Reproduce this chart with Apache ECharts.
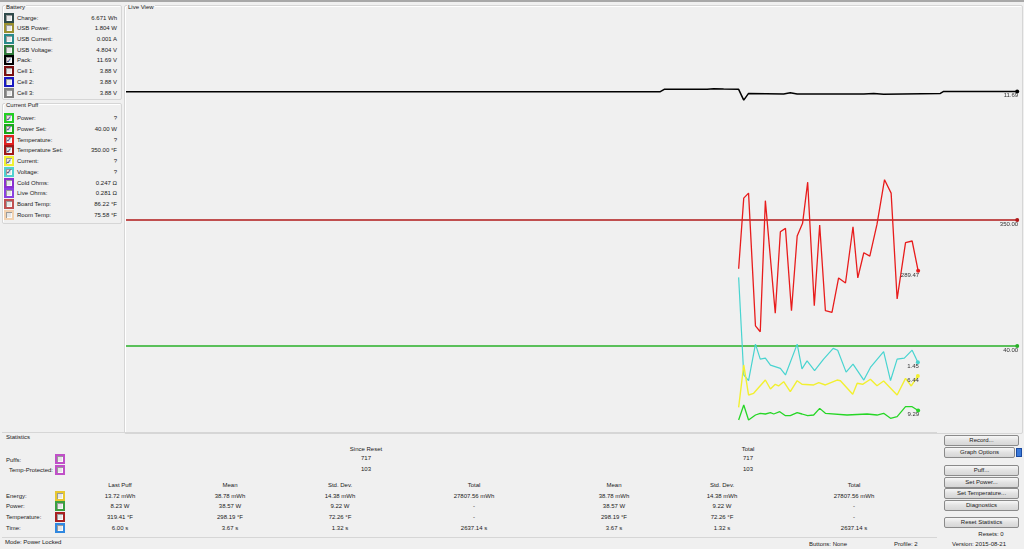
<!DOCTYPE html>
<html>
<head>
<meta charset="utf-8">
<script src="https://cdn.jsdelivr.net/npm/echarts@6/dist/echarts.min.js"></script>
<style>
  html, body { margin: 0; padding: 0; }
  body { width: 1024px; height: 549px; background: #f0f0f0; position: relative; overflow: hidden;
         font-family: "Liberation Sans", Arial, sans-serif; font-size: 6px; color: #1a1a1a; }
  .abs { position: absolute; white-space: nowrap; line-height: 1; }
  .gbox { position: absolute; border: 1px solid #d6d6d6; border-radius: 2px; box-shadow: 1px 1px 0 #fff inset; }
  .gtitle { position: absolute; background: #f0f0f0; padding: 0 1px; line-height: 1; }
  .cb { position: absolute; width: 10px; height: 10px; box-sizing: border-box; }
  .cb i { position: absolute; left: 2px; top: 2px; width: 6px; height: 6px; background: #e6e6e6; box-shadow: inset 1px 1px 0 #9a9a9a, inset -1px -1px 0 #fafafa; }
  .cb b { position: absolute; left: 2px; top: 1.5px; font-size: 7px; line-height: 7px; color: #1a2a70; font-weight: normal; }
  .btn { position: absolute; box-sizing: border-box; border: 1px solid #8a8a8a; border-radius: 2px;
         background: linear-gradient(#f7f7f7, #e2e2e2 50%, #d6d6d6); text-align: center; }
  #chart { position: absolute; left: 124px; top: 4px; width: 898px; height: 428px; }
</style>
</head>
<body>
<div style="position:absolute;left:0;top:0;width:1024px;height:2px;background:#a8a8a8"></div>
<div id="ui"></div>
<div id="chart"></div>
<script>
// ---- chart data (seconds on x) ----
const viewStart = 0, viewEnd = 29.7;

const packTimes  = [0, 17.80, 17.93, 19.36, 19.58, 19.91, 20.41, 20.58, 20.74, 21.91, 22.13, 22.36, 24.58, 24.91, 25.24, 27.13, 27.24, 28.36, 29.69];
const packValues = [11.68, 11.68, 11.76, 11.76, 11.78, 11.77, 11.76, 11.39, 11.62, 11.60, 11.64, 11.60, 11.60, 11.62, 11.59, 11.62, 11.69, 11.69, 11.69];

const tempTimes  = [20.41, 20.58, 20.74, 20.97, 21.13, 21.30, 21.63, 21.80, 21.97, 22.17, 22.36, 22.54, 22.71, 22.93, 23.11, 23.30, 23.52, 23.74, 23.97, 24.22, 24.38, 24.58, 24.78, 25.02, 25.27, 25.49, 25.69, 25.97, 26.19, 26.39];
const tempValues = [292, 376, 382, 224, 217, 373, 239, 336, 340, 242, 331, 346, 395, 248, 344, 242, 240, 281, 275, 342, 281, 311, 307, 345, 398, 382, 256, 323, 325, 289.47];
const tempSet = 350;

const voltTimes  = [20.41, 20.58, 20.74, 20.97, 21.13, 21.30, 21.47, 21.80, 21.97, 22.36, 22.52, 22.69, 22.94, 23.24, 23.56, 23.71, 23.99, 24.22, 24.58, 24.80, 25.24, 25.47, 25.69, 25.93, 26.19, 26.38];
const voltValues = [3.27, 1.18, 1.06, 1.84, 1.52, 1.54, 1.39, 1.32, 1.18, 1.84, 1.31, 1.48, 1.27, 1.52, 1.75, 1.71, 1.24, 1.41, 1.07, 1.34, 1.68, 1.06, 1.52, 1.54, 1.71, 1.45];

const currTimes  = [20.41, 20.58, 20.74, 20.91, 21.30, 21.47, 21.63, 21.74, 21.91, 22.13, 22.36, 22.52, 22.91, 23.08, 23.30, 23.69, 23.80, 24.21, 24.36, 24.54, 24.80, 25.02, 25.24, 25.69, 25.97, 26.16, 26.38];
const currValues = [2.70, 7.74, 4.17, 4.37, 5.95, 4.88, 5.44, 5.24, 5.75, 4.56, 5.87, 5.44, 5.36, 5.63, 5.36, 5.95, 5.87, 4.25, 5.56, 5.44, 6.04, 5.27, 5.83, 4.17, 6.15, 5.24, 6.44];

const powerTimes  = [20.41, 20.58, 20.74, 20.97, 21.13, 21.30, 21.47, 21.58, 21.78, 21.97, 22.13, 22.36, 22.52, 22.71, 22.91, 23.11, 23.30, 24.02, 24.69, 25.02, 25.24, 25.47, 25.69, 25.97, 26.19, 26.39];
const powerValues = [4.76, 11.9, 4.76, 7.14, 7.95, 7.62, 8.24, 7.62, 8.71, 6.81, 6.81, 8.24, 7.62, 6.81, 7.14, 10.3, 7.95, 7.14, 7.62, 7.14, 7.95, 5.57, 6.33, 11.1, 11.1, 9.29];
const powerSet = 40;

// ---- side panel / stats text ----
const batteryRows = [
  ['Charge:', '6.671 Wh', '#2f4a4a', false],
  ['USB Power:', '1.804 W', '#9a9030', false],
  ['USB Current:', '0.001 A', '#2a8a8a', false],
  ['USB Voltage:', '4.804 V', '#2f7a3a', false],
  ['Pack:', '11.69 V', '#000000', true],
  ['Cell 1:', '3.88 V', '#7a1010', false],
  ['Cell 2:', '3.88 V', '#1818c0', false],
  ['Cell 3:', '3.88 V', '#808080', false]
];
const puffRows = [
  ['Power:', '?', '#22d022', true],
  ['Power Set:', '40.00 W', '#18a818', true],
  ['Temperature:', '?', '#e02020', true],
  ['Temperature Set:', '350.00 °F', '#a01818', true],
  ['Current:', '?', '#f0f030', true],
  ['Voltage:', '?', '#50d0d0', true],
  ['Cold Ohms:', '0.247 Ω', '#8a30d0', false],
  ['Live Ohms:', '0.281 Ω', '#8a40e0', false],
  ['Board Temp:', '86.22 °F', '#c05050', false],
  ['Room Temp:', '75.58 °F', '#f2d2b0', false]
];
const statHeaders = ['Last Puff', 'Mean', 'Std. Dev.', 'Total', 'Mean', 'Std. Dev.', 'Total'];
const statRows = [
  ['Energy:', '#e8c830', ['13.72 mWh', '38.78 mWh', '14.38 mWh', '27807.56 mWh', '38.78 mWh', '14.38 mWh', '27807.56 mWh']],
  ['Power:', '#3aa040', ['8.23 W', '38.57 W', '9.22 W', '-', '38.57 W', '9.22 W', '-']],
  ['Temperature:', '#a82020', ['319.41 °F', '298.19 °F', '72.26 °F', '-', '298.19 °F', '72.26 °F', '-']],
  ['Time:', '#3088e0', ['6.00 s', '3.67 s', '1.32 s', '2637.14 s', '3.67 s', '1.32 s', '2637.14 s']]
];
const buttons = [
  ['Record...', 435, 944, 75], ['Graph Options', 447, 944, 71], ['Puff...', 465, 944, 75],
  ['Set Power...', 477, 944, 75], ['Set Temperature...', 488, 944, 75], ['Diagnostics', 499.5, 944, 75],
  ['Reset Statistics', 517, 944, 75]
];

// ---- build the form around the chart ----
const ui = document.getElementById('ui');
function el(cls, css, text) {
  const d = document.createElement('div');
  d.className = cls;
  Object.assign(d.style, css);
  if (text !== undefined) d.textContent = text;
  ui.appendChild(d);
  return d;
}
function checkbox(x, y, color, checked) {
  const c = el('cb', { left: x + 'px', top: y + 'px', background: color });
  c.innerHTML = '<i></i>' + (checked ? '<b>✓</b>' : '');
}
function groupBox(x, y, w, h, title) {
  el('gbox', { left: x + 'px', top: y + 'px', width: w + 'px', height: h + 'px' });
  el('gtitle', { left: (x + 3) + 'px', top: (y - 1) + 'px' }, title);
}

groupBox(2, 5, 118, 93, 'Battery');
groupBox(2, 103, 118, 119, 'Current Puff');
groupBox(124, 5, 897, 427, 'Live View');
el('abs', { left: '2px', top: '432px', width: '935px', height: '104px', borderTop: '1px solid #d6d6d6', borderBottom: '1px solid #d6d6d6' });
el('gtitle', { left: '5px', top: '434px' }, 'Statistics');

batteryRows.forEach((r, i) => {
  const y = 17.5 + i * 10.72;
  checkbox(3.5, y - 5, r[2], r[3]);
  el('abs', { left: '17px', top: (y - 3) + 'px' }, r[0]);
  el('abs', { right: (1024 - 117) + 'px', top: (y - 3) + 'px' }, r[1]);
});
puffRows.forEach((r, i) => {
  const y = 118 + i * 10.75;
  checkbox(3.5, y - 5, r[2], r[3]);
  el('abs', { left: '17px', top: (y - 3) + 'px' }, r[0]);
  el('abs', { right: (1024 - 117) + 'px', top: (y - 3) + 'px' }, r[1]);
});

// statistics block
const colX = [120, 230, 340, 474, 614, 722, 854];
function centred(x, y, text) {
  el('abs', { left: (x - 50) + 'px', width: '100px', textAlign: 'center', top: (y - 3) + 'px' }, text);
}
centred(366, 449, 'Since Reset'); centred(366, 458, '717'); centred(366, 468.5, '103');
centred(748, 449, 'Total'); centred(748, 458, '717'); centred(748, 468.5, '103');
el('abs', { left: '6px', top: '456.5px' }, 'Puffs:');
el('abs', { left: '9px', top: '467px' }, 'Temp-Protected:');
checkbox(54.5, 454, '#c050c8', false);
checkbox(54.5, 465, '#c050c8', false);
statHeaders.forEach((h, i) => centred(colX[i], 484.5, h));
statRows.forEach((r, j) => {
  const y = 495.5 + j * 10.7;
  el('abs', { left: '6px', top: (y - 3) + 'px' }, r[0]);
  checkbox(54.5, y - 5, r[1], false);
  r[2].forEach((v, i) => centred(colX[i], y, v));
});

buttons.forEach(b => {
  el('btn', { left: b[2] + 'px', top: b[1] + 'px', width: b[3] + 'px', height: '11px', lineHeight: '9px' }, b[0]);
});
el('abs', { left: '1016px', top: '447.5px', width: '6px', height: '9px', background: '#3a78d8', border: '1px solid #1a4aa0', boxSizing: 'border-box' });
centred(991, 534, 'Resets: 0');

el('abs', { left: '5px', top: '539px' }, 'Mode: Power Locked');
el('abs', { left: '809px', top: '540.5px' }, 'Buttons: None');
el('abs', { left: '894px', top: '540.5px' }, 'Profile: 2');
el('abs', { left: '952px', top: '540.5px' }, 'Version: 2015-08-21');

// ---- the live view chart ----
function pairs(ts, vs) { return ts.map((t, i) => [t, vs[i]]); }
function withEndDot(data, color, text) {
  const last = data[data.length - 1];
  data[data.length - 1] = {
    value: last,
    symbol: 'circle',
    symbolSize: 4,
    itemStyle: { color: color },
    label: {
      show: true, position: 'bottom', align: 'right', distance: 0, offset: [1, -1],
      formatter: text, fontSize: 6, color: '#333', fontFamily: 'Liberation Sans'
    }
  };
  return data;
}
function line(name, yIdx, data, color, width) {
  return {
    name: name, type: 'line', yAxisIndex: yIdx, data: data,
    symbol: 'none', silent: true, animation: false,
    lineStyle: { color: color, width: width || 1.2 },
    itemStyle: { color: color }
  };
}

const chart = echarts.init(document.getElementById('chart'), null, { renderer: 'canvas' });
chart.setOption({
  backgroundColor: 'transparent',
  animation: false,
  grid: { left: 2, right: 4.5, top: 6, bottom: 2 },
  xAxis: { type: 'value', min: viewStart, max: viewEnd, show: false },
  yAxis: [
    { type: 'value', min: 0, max: 14.5, show: false },   // pack voltage
    { type: 'value', min: 100, max: 600, show: false },  // temperature
    { type: 'value', min: 0, max: 200, show: false },    // power
    { type: 'value', min: 0, max: 50, show: false },     // current
    { type: 'value', min: 0, max: 9, show: false }       // voltage
  ],
  series: [
    line('Pack', 0, withEndDot(pairs(packTimes, packValues), '#000', '11.69'), '#000000', 1.5),
    line('Temperature Set', 1, withEndDot([[viewStart, tempSet], [29.69, tempSet]], '#b01818', '350.00'), '#b01818', 1.3),
    line('Power Set', 2, withEndDot([[viewStart, powerSet], [29.69, powerSet]], '#28b028', '40.00'), '#28b028', 1.3),
    line('Temperature', 1, withEndDot(pairs(tempTimes, tempValues), '#e81c1c', '289.47'), '#e81c1c', 1.3),
    line('Voltage', 4, withEndDot(pairs(voltTimes, voltValues), '#48d4d0', '1.45'), '#48d4d0', 1.2),
    line('Current', 3, withEndDot(pairs(currTimes, currValues), '#f2f030', '6.44'), '#f2f030', 1.4),
    line('Power', 2, withEndDot(pairs(powerTimes, powerValues), '#26d626', '9.29'), '#26d626', 1.3)
  ]
});
</script>
</body>
</html>
